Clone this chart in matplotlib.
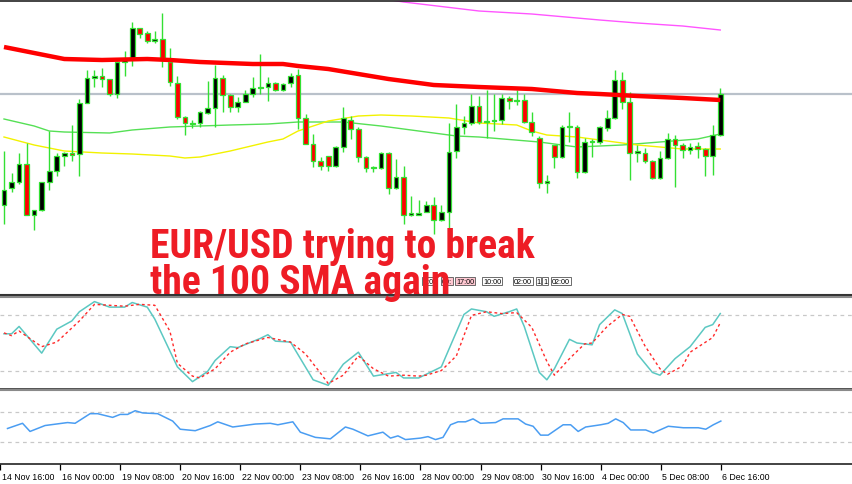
import numpy as np
import matplotlib.pyplot as plt
import matplotlib.transforms as mtransforms

# EUR/USD H4 candles
opens = [1.1274, 1.1291, 1.1297, 1.1315, 1.1264, 1.1269, 1.1297, 1.1308, 1.1323, 1.1326,
         1.1325, 1.1376, 1.1401, 1.1403, 1.1400, 1.1385, 1.1417, 1.1420, 1.1451, 1.1446,
         1.1438, 1.1440, 1.1417, 1.1396, 1.1362, 1.1356, 1.1356, 1.1366, 1.1371, 1.1401,
         1.1384, 1.1372, 1.1377, 1.1385, 1.1391, 1.1392, 1.1396, 1.1389, 1.1396, 1.1404,
         1.1361, 1.1335, 1.1318, 1.1323, 1.1313, 1.1332, 1.1359, 1.1350, 1.1322, 1.1311,
         1.1311, 1.1326, 1.1291, 1.1302, 1.1264, 1.1264, 1.1267, 1.1274, 1.1259, 1.1267,
         1.1328, 1.1352, 1.1356, 1.1373, 1.1357, 1.1358, 1.1359, 1.1381, 1.1378, 1.1379,
         1.1357, 1.1341, 1.1296, 1.1334, 1.1322, 1.1352, 1.1352, 1.1307, 1.1337, 1.1337,
         1.1351, 1.1361, 1.1399, 1.1377, 1.1326, 1.1326, 1.1318, 1.1301, 1.1321, 1.1340,
         1.1334, 1.1329, 1.1333, 1.1330, 1.1323, 1.1344]
highs = [1.1328, 1.1306, 1.1326, 1.1336, 1.1269, 1.1297, 1.1348, 1.1326, 1.1327, 1.1354,
         1.1380, 1.1409, 1.1409, 1.1411, 1.1400, 1.1418, 1.1428, 1.1457, 1.1451, 1.1448,
         1.1448, 1.1466, 1.1431, 1.1403, 1.1363, 1.1359, 1.1368, 1.1398, 1.1414, 1.1404,
         1.1385, 1.1382, 1.1389, 1.1402, 1.1425, 1.1402, 1.1397, 1.1396, 1.1406, 1.1410,
         1.1365, 1.1345, 1.1322, 1.1323, 1.1333, 1.1372, 1.1363, 1.1352, 1.1323, 1.1313,
         1.1327, 1.1327, 1.1320, 1.1313, 1.1283, 1.1279, 1.1278, 1.1282, 1.1274, 1.1356,
         1.1375, 1.1363, 1.1385, 1.1383, 1.1389, 1.1385, 1.1385, 1.1383, 1.1389, 1.1385,
         1.1367, 1.1343, 1.1304, 1.1334, 1.1354, 1.1367, 1.1354, 1.1341, 1.1340, 1.1353,
         1.1369, 1.1409, 1.1407, 1.1387, 1.1334, 1.1331, 1.1319, 1.1328, 1.1346, 1.1344,
         1.1336, 1.1336, 1.1337, 1.1331, 1.1354, 1.1391]
lows = [1.1255, 1.1287, 1.1295, 1.1264, 1.1249, 1.1268, 1.1289, 1.1303, 1.1313, 1.1318,
        1.1303, 1.1376, 1.1392, 1.1392, 1.1383, 1.1381, 1.1403, 1.1413, 1.1441, 1.1436,
        1.1436, 1.1412, 1.1393, 1.1360, 1.1344, 1.1351, 1.1352, 1.1365, 1.1352, 1.1367,
        1.1367, 1.1367, 1.1377, 1.1382, 1.1385, 1.1378, 1.1388, 1.1388, 1.1392, 1.1350,
        1.1335, 1.1312, 1.1309, 1.1308, 1.1312, 1.1327, 1.1340, 1.1317, 1.1307, 1.1307,
        1.1310, 1.1285, 1.1290, 1.1255, 1.1263, 1.1264, 1.1267, 1.1245, 1.1258, 1.1247,
        1.1321, 1.1345, 1.1354, 1.1355, 1.1341, 1.1348, 1.1355, 1.1370, 1.1374, 1.1356,
        1.1343, 1.1291, 1.1286, 1.1311, 1.1321, 1.1337, 1.1301, 1.1306, 1.1322, 1.1335,
        1.1348, 1.1360, 1.1370, 1.1299, 1.1317, 1.1316, 1.1300, 1.1300, 1.1320, 1.1292,
        1.1321, 1.1325, 1.1321, 1.1303, 1.1304, 1.1343]
closes = [1.1289, 1.1297, 1.1315, 1.1264, 1.1269, 1.1297, 1.1308, 1.1323, 1.1326, 1.1324,
          1.1376, 1.1401, 1.1403, 1.1400, 1.1385, 1.1417, 1.1420, 1.1451, 1.1445, 1.1438,
          1.1440, 1.1421, 1.1397, 1.1362, 1.1356, 1.1355, 1.1367, 1.1371, 1.1401, 1.1384,
          1.1372, 1.1377, 1.1385, 1.1391, 1.1392, 1.1396, 1.1389, 1.1395, 1.1403, 1.1361,
          1.1335, 1.1318, 1.1313, 1.1313, 1.1332, 1.1361, 1.1350, 1.1322, 1.1311, 1.1312,
          1.1326, 1.1291, 1.1302, 1.1264, 1.1266, 1.1266, 1.1274, 1.1259, 1.1267, 1.1327,
          1.1352, 1.1356, 1.1373, 1.1357, 1.1358, 1.1359, 1.1381, 1.1378, 1.1379, 1.1357,
          1.1347, 1.1296, 1.1298, 1.1322, 1.1352, 1.1353, 1.1307, 1.1337, 1.1338, 1.1352,
          1.1361, 1.1399, 1.1377, 1.1326, 1.1328, 1.1318, 1.1301, 1.1321, 1.1340, 1.1334,
          1.1329, 1.1332, 1.1330, 1.1323, 1.1344, 1.1385]
last_price = 1.1385

# moving averages (candle index, value)
sma100_x = [0, 4, 8, 13, 19, 22, 26, 33, 37, 39, 43, 47, 51, 55, 57, 63, 70, 76, 79, 84, 90, 95]
sma100_y = [1.1432, 1.1426, 1.1420, 1.1419, 1.1420, 1.1419, 1.1417, 1.1415, 1.1415, 1.1413, 1.1410,
            1.1405, 1.1400, 1.1396, 1.1394, 1.1392, 1.1390, 1.1386, 1.1385, 1.1383, 1.1381, 1.1379]
sma200_x = [48, 53, 63, 70, 76, 79, 84, 90, 95]
sma200_y = [1.1483, 1.1477, 1.1468, 1.1465, 1.1461, 1.1459, 1.1456, 1.1453, 1.1449]
sma50_x = [0, 4, 6, 8, 14, 17, 22, 26, 30, 35, 39, 45, 50, 55, 60, 63, 71, 76, 82, 87, 92, 95]
sma50_y = [1.1360, 1.1353, 1.1348, 1.1347, 1.1346, 1.1349, 1.1352, 1.1353, 1.1354, 1.1355, 1.1357,
           1.1357, 1.1353, 1.1348, 1.1343, 1.1342, 1.1337, 1.1332, 1.1334, 1.1337, 1.1340, 1.1345]
sma20_x = [0, 4, 8, 13, 17, 22, 24, 26, 30, 35, 37, 39, 43, 47, 50, 54, 59, 63, 68, 70, 72, 76,
           79, 84, 90, 95]
sma20_y = [1.1342, 1.1334, 1.1328, 1.1326, 1.1325, 1.1323, 1.1321, 1.1322, 1.1328, 1.1337, 1.1340,
           1.1348, 1.1358, 1.1363, 1.1364, 1.1363, 1.1361, 1.1356, 1.1354, 1.1348, 1.1344, 1.1342,
           1.1339, 1.1334, 1.1330, 1.1330]

# stochastic
stoch_k_x = [0, 1, 2, 5, 7, 9, 10, 12, 14, 16, 17, 19, 20, 23, 25, 27, 28, 30, 31, 34, 35, 36, 38,
             41, 43, 45, 47, 49, 52, 53, 55, 57, 58, 61, 62, 64, 65, 67, 68, 69, 71, 72, 73, 75,
             76, 78, 79, 80, 81, 82, 84, 86, 87, 89, 91, 93, 94, 95]
stoch_k = [60, 60, 68, 39, 65, 74, 84, 95, 89, 89, 94, 89, 76, 24, 8, 19, 31, 46, 45, 55, 59, 52, 51,
           10, 4, 27, 40, 14, 18, 12, 12, 20, 24, 81, 87, 84, 79, 84, 87, 68, 18, 10, 22, 54,
           50, 48, 70, 78, 86, 82, 38, 18, 15, 33, 46, 67, 70, 82]
stoch_d_x = [0, 1, 2, 5, 7, 10, 12, 14, 16, 18, 20, 22, 23, 25, 26, 28, 30, 32, 35, 38, 40, 42, 43,
             45, 47, 49, 51, 53, 55, 56, 58, 60, 62, 64, 66, 68, 70, 72, 73, 75, 77, 78, 80, 82,
             83, 85, 87, 88, 90, 91, 94, 95]
stoch_d = [61, 58, 63, 46, 51, 74, 92, 91, 90, 92, 91, 63, 28, 14, 12, 22, 40, 49, 56, 51, 38, 17, 6,
           15, 36, 22, 14, 15, 14, 15, 20, 36, 80, 84, 82, 83, 67, 30, 15, 33, 49, 50, 68, 81,
           79, 47, 22, 16, 25, 40, 56, 72]

# RSI
rsi_x = [0, 2, 3, 5, 8, 9, 11, 12, 14, 15, 16, 17, 18, 20, 22, 23, 25, 27, 28, 30, 33, 35, 36, 38,
         39, 41, 43, 45, 46, 48, 50, 51, 52, 53, 55, 56, 57, 58, 59, 60, 61, 62, 63, 65, 66, 68,
         69, 70, 71, 72, 74, 75, 76, 77, 79, 80, 81, 82, 83, 85, 86, 88, 90, 92, 93, 94, 95]
rsi = [48, 55, 44, 52, 56, 55, 68, 68, 63, 67, 67, 72, 69, 68, 58, 47, 45, 52, 57, 50, 54, 55, 53, 57,
       43, 36, 34, 50, 47, 38, 43, 35, 38, 33, 35, 37, 33, 36, 53, 57, 57, 61, 55, 56, 61, 61,
       54, 51, 39, 39, 53, 53, 44, 50, 53, 55, 61, 56, 46, 46, 42, 51, 49, 49, 47, 53, 58]

tick_idx = [-1, 7, 15, 23, 31, 39, 47, 55, 63, 71, 79, 87, 95]
tick_labels = ['14 Nov 16:00', '16 Nov 00:00', '19 Nov 08:00', '20 Nov 16:00', '22 Nov 00:00',
               '23 Nov 08:00', '26 Nov 16:00', '28 Nov 00:00', '29 Nov 08:00', '30 Nov 16:00',
               '4 Dec 00:00', '5 Dec 08:00', '6 Dec 16:00']

W, H = 852, 485
fig = plt.figure(figsize=(W / 100, H / 100), dpi=100)
fig.patch.set_facecolor('white')

def px_axes(top, bottom):
    return fig.add_axes([0, 1 - bottom / H, 1, (bottom - top) / H])

ax = px_axes(2, 296)
ax_st = px_axes(298, 390)
ax_rsi = px_axes(391, 465)

xlim = (-0.53, 112.47)
for a in (ax, ax_st, ax_rsi):
    a.set_xlim(*xlim)
    a.set_facecolor('white')
    for s in ('left', 'right'):
        a.spines[s].set_visible(False)
    a.set_yticks([])
    a.set_xticks([])

# main panel
ax.set_ylim(1.1184, 1.1478)
ax.spines['top'].set_color('#222222')
ax.spines['top'].set_linewidth(1.2)
ax.spines['bottom'].set_color('#333333')
ax.spines['bottom'].set_linewidth(1.5)

ax.axhline(last_price, color='#B9C1CA', lw=1.6, zorder=1)
ax.plot(sma200_x, sma200_y, color='#FF55FF', lw=1.0, zorder=2)
ax.plot(sma50_x, sma50_y, color='#55E055', lw=1.0, zorder=2)
ax.plot(sma20_x, sma20_y, color='#F2F200', lw=1.0, zorder=2)

idx = np.arange(len(opens))
o = np.array(opens)
c = np.array(closes)
green = '#33E033'
ax.vlines(idx, lows, highs, color=green, lw=1.0, zorder=3)
body = c - o
body = np.where(np.abs(body) < 0.00003, 0.00003, body)
cols = np.where(c >= o, 'black', '#FF0000')
ax.bar(idx, body, bottom=o, width=0.62, color=cols, edgecolor=green, linewidth=0.9, zorder=4)
ax.plot(sma100_x, sma100_y, color='#FF0000', lw=3.2, zorder=5, solid_capstyle='butt')

# stochastic panel
ax_st.set_ylim(0, 100)
ax_st.spines['top'].set_color('#8A8A8A')
ax_st.spines['top'].set_linewidth(1.5)
ax_st.spines['bottom'].set_color('#333333')
ax_st.spines['bottom'].set_linewidth(1.2)
for lv in (80, 20):
    ax_st.axhline(lv, color='#C8C8C8', lw=0.9, ls=(0, (3, 3)))
ax_st.plot(stoch_k_x, stoch_k, color='#5CC8C2', lw=1.1)
ax_st.plot(stoch_d_x, stoch_d, color='#FF2A2A', lw=1.0, ls=(0, (2, 2)))

# RSI panel
ax_rsi.set_ylim(0, 100)
ax_rsi.spines['top'].set_color('#8A8A8A')
ax_rsi.spines['top'].set_linewidth(1.5)
ax_rsi.spines['bottom'].set_color('#222222')
ax_rsi.spines['bottom'].set_linewidth(1.2)
for lv in (70, 30):
    ax_rsi.axhline(lv, color='#C8C8C8', lw=0.9, ls=(0, (3, 3)))
ax_rsi.plot(rsi_x, rsi, color='#4A9DF2', lw=1.1)

ax_rsi.set_xticks(tick_idx)
ax_rsi.set_xticklabels(tick_labels, fontsize=6.3, family='Liberation Sans')
ax_rsi.tick_params(axis='x', length=4, width=0.9, color='black', pad=1.5)
shift = mtransforms.ScaledTranslation(1.5 / 100, 0, fig.dpi_scale_trans)
for lbl in ax_rsi.get_xticklabels():
    lbl.set_ha('left')
    lbl.set_transform(lbl.get_transform() + shift)

# MT4 period-separator labels (partly hidden behind the headline)
sep_labels = [('1:0', 428, 'white'), ('09:', 447, '#FFC8D2'), ('17:00', 465, '#FFC8D2'),
              ('10:00', 492, 'white'), ('02:00', 523, 'white'), ('1', 538.5, 'white'),
              ('1', 545, 'white'), ('02:00', 561, 'white')]
for txt, xp, fc in sep_labels:
    fig.text(xp / W, 1 - 282 / H, txt, fontsize=5.2, family='Liberation Sans', ha='center',
             va='center', zorder=2,
             bbox=dict(boxstyle='square,pad=0.12', fc=fc, ec='#555555', lw=0.6))

# headline
title_kw = dict(color='#EE1C25', fontsize=28.5, fontweight='bold', zorder=5,
                family=['Liberation Sans Narrow', 'Roboto Condensed', 'Liberation Sans'])
fig.text(150 / W, 1 - 258 / H, 'EUR/USD trying to break', va='baseline', **title_kw)
fig.text(150 / W, 1 - 294 / H, 'the 100 SMA again', va='baseline', **title_kw)

fig.savefig('out.png', dpi=100, facecolor='white')
